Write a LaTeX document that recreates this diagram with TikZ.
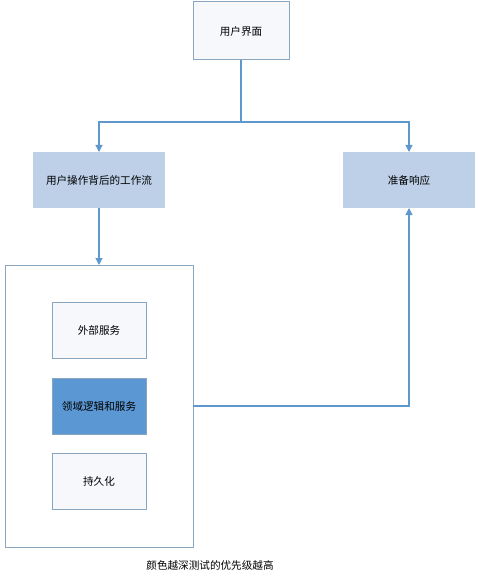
\documentclass[tikz,border=0pt]{standalone}
\usepackage{fontspec}
\newfontfamily\cjk{Noto Sans CJK SC}
\usetikzlibrary{arrows.meta}
\definecolor{edgeblue}{HTML}{5F98CC}
\definecolor{boxline}{HTML}{8AA6BE}
\definecolor{lightfill}{HTML}{BDD0E8}
\definecolor{darkfill}{HTML}{5B97D2}
\definecolor{paperfill}{HTML}{F6F8FC}
\tikzset{
  x=1pt,y=-1pt,
  every node/.style={font=\cjk\fontsize{10.6}{12}\selectfont, inner sep=0pt, outer sep=0pt},
  whitebox/.style={draw=boxline, line width=1pt, fill=paperfill, minimum width=94pt, minimum height=56pt},
  bluebox/.style={fill=lightfill, minimum width=132pt, minimum height=56pt},
  darkbox/.style={draw=boxline, line width=0.8pt, fill=darkfill, minimum width=94pt, minimum height=56pt},
  container/.style={draw=boxline, line width=1pt, fill=white, minimum width=188pt, minimum height=282pt},
  conn/.style={draw=edgeblue, line width=1.1pt},
  arr/.style={conn, -{Triangle[length=7pt,width=7pt]}}
}
\begin{document}
\begin{tikzpicture}
\useasboundingbox (0,0) rectangle (481,580);
\node[whitebox, minimum width=96pt, minimum height=58pt] (ui) at (241,31) {用户界面};
\node[bluebox] (wf) at (99,180) {用户操作背后的工作流};
\node[bluebox] (resp) at (409,180) {准备响应};
\node[container] (cont) at (99,406) {};
\node[whitebox] (ext) at (99,330) {外部服务};
\node[darkbox] (dom) at (99,406) {领域逻辑和服务};
\node[whitebox] (pers) at (99,481) {持久化};
\coordinate (split) at (241,122);
\node (cap) at (210,565) {颜色越深测试的优先级越高};
\draw[conn] (ui.south) -- (split);
\draw[arr] (split) -| (wf.north);
\draw[arr] (split) -| (resp.north);
\draw[arr] (wf.south) -- (cont.north);
\draw[arr] (cont.east |- dom.east) -| (resp.south);
\end{tikzpicture}
\end{document}
